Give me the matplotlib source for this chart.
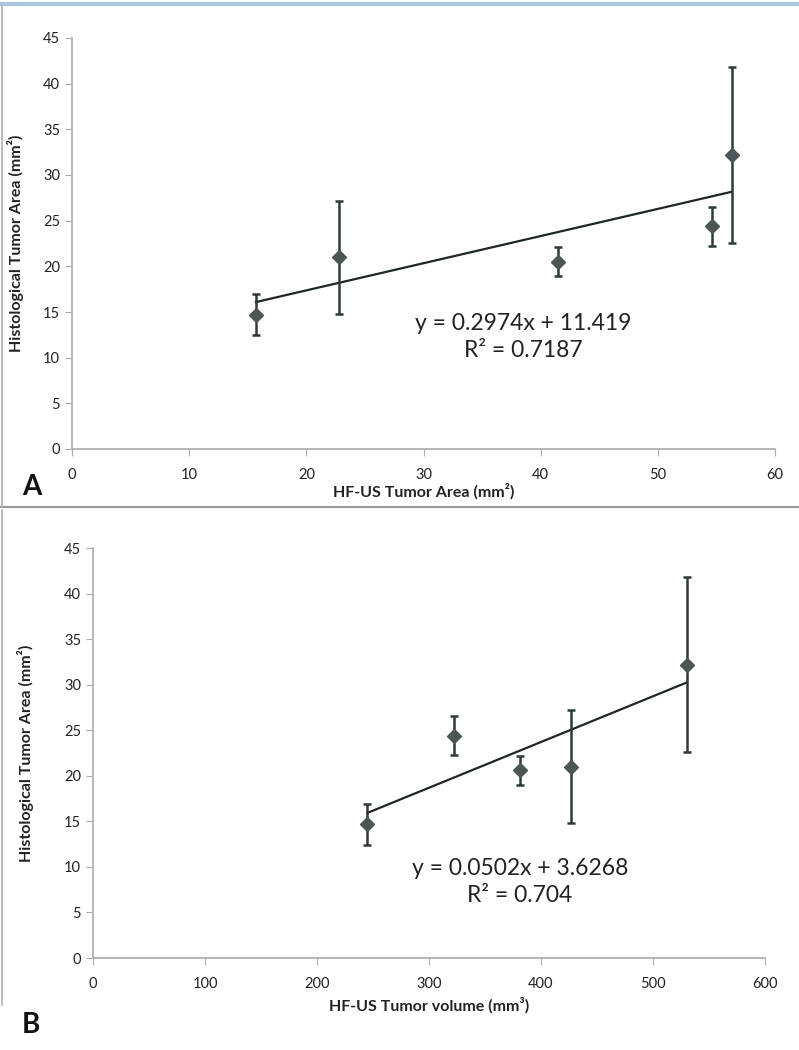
import numpy as np
import matplotlib
matplotlib.use('Agg')
import matplotlib.pyplot as plt
from matplotlib.lines import Line2D

plt.rcParams['font.family'] = ['Lato', 'DejaVu Sans']

# data
hist_area = [14.7, 21.0, 20.5, 24.4, 32.2]
hist_err = [2.25, 6.2, 1.6, 2.15, 9.6]
us_area = [15.7, 22.8, 41.5, 54.6, 56.3]

hist_area_b = [14.7, 24.4, 20.6, 21.0, 32.2]
hist_err_b = [2.25, 2.15, 1.6, 6.2, 9.6]
us_volume = [245, 322, 381, 427, 530]

fit_a = (0.2974, 11.419)
fit_b = (0.0502, 3.6268)

W, H = 799, 1050
fig = plt.figure(figsize=(W / 100, H / 100), dpi=100)

mark_col = '#4d5656'
bar_col = '#2e3a3a'
spine_col = '#a8acac'
txt_col = '#222222'


def panel(rect, x, y, yerr, fit, xmax, xstep, xlabel, eq, r2, eqpos, lpad):
    ax = fig.add_axes(rect)
    ax.errorbar(x, y, yerr=yerr, fmt='D', color=mark_col, ms=7.5,
                ecolor=bar_col, elinewidth=1.8, capsize=3.2, capthick=1.8, zorder=3)
    xs = np.array([min(x), max(x)])
    ax.plot(xs, fit[0] * xs + fit[1], color='#1e2626', lw=1.6, zorder=2)
    ax.set_xlim(0, xmax)
    ax.set_ylim(0, 45)
    ax.set_xticks(np.arange(0, xmax + 1, xstep))
    ax.set_yticks(np.arange(0, 46, 5))
    for s in ['top', 'right']:
        ax.spines[s].set_visible(False)
    for s in ['left', 'bottom']:
        ax.spines[s].set_color(spine_col)
        ax.spines[s].set_linewidth(1.2)
    ax.tick_params(direction='out', length=5, color=spine_col, labelsize=10.5,
                   labelcolor=txt_col)
    ax.tick_params(axis='x', pad=9)
    ax.set_xlabel(xlabel, fontsize=11.5, fontweight='bold', color=txt_col, labelpad=lpad)
    ax.set_ylabel('Histological Tumor Area (mm²)', fontsize=11.5,
                  fontweight='bold', color=txt_col)
    ax.text(eqpos[0], eqpos[1], eq + '\n' + r2, ha='center', va='center',
            fontsize=16.5, color=txt_col, linespacing=1.35)
    ax.set_facecolor('none')
    return ax


axA = panel([72 / W, 1 - 449 / H, 703 / W, 411 / H], us_area, hist_area, hist_err,
            fit_a, 60, 10, 'HF-US Tumor Area (mm²)',
            'y = 0.2974x + 11.419', 'R² = 0.7187', (38.5, 12.3), 0.5)
axA.yaxis.set_label_coords(-(72 - 24) / 703, 0.5)

axB = panel([93 / W, 1 - 958 / H, 672 / W, 410 / H], us_volume, hist_area_b, hist_err_b,
            fit_b, 600, 100, 'HF-US Tumor volume (mm³)',
            'y = 0.0502x + 3.6268', 'R² = 0.704', (381, 8.3), 4)
axB.yaxis.set_label_coords(-(93 - 34) / 672, 0.5)

fig.text(22 / W, 1 - 487 / H, 'A', fontsize=20, fontweight='bold', va='center',
         color='#111111')
fig.text(22 / W, 1 - 1025 / H, 'B', fontsize=20, fontweight='bold', va='center',
         color='#111111')

# panel frames
fig.add_artist(Line2D([0, 1], [1 - 4 / H, 1 - 4 / H], color='#a9c6dc', lw=3))
fig.add_artist(Line2D([0, 1], [1 - 507 / H, 1 - 507 / H], color='#9a9a9a', lw=1.5))
fig.add_artist(Line2D([2 / W, 2 / W], [1 - 507 / H, 1 - 6 / H], color='#b0b0b0', lw=1.2))
fig.add_artist(Line2D([2 / W, 2 / W], [1 - 1005 / H, 1 - 510 / H], color='#b0b0b0', lw=1.2))

fig.savefig('out.png', dpi=100)
